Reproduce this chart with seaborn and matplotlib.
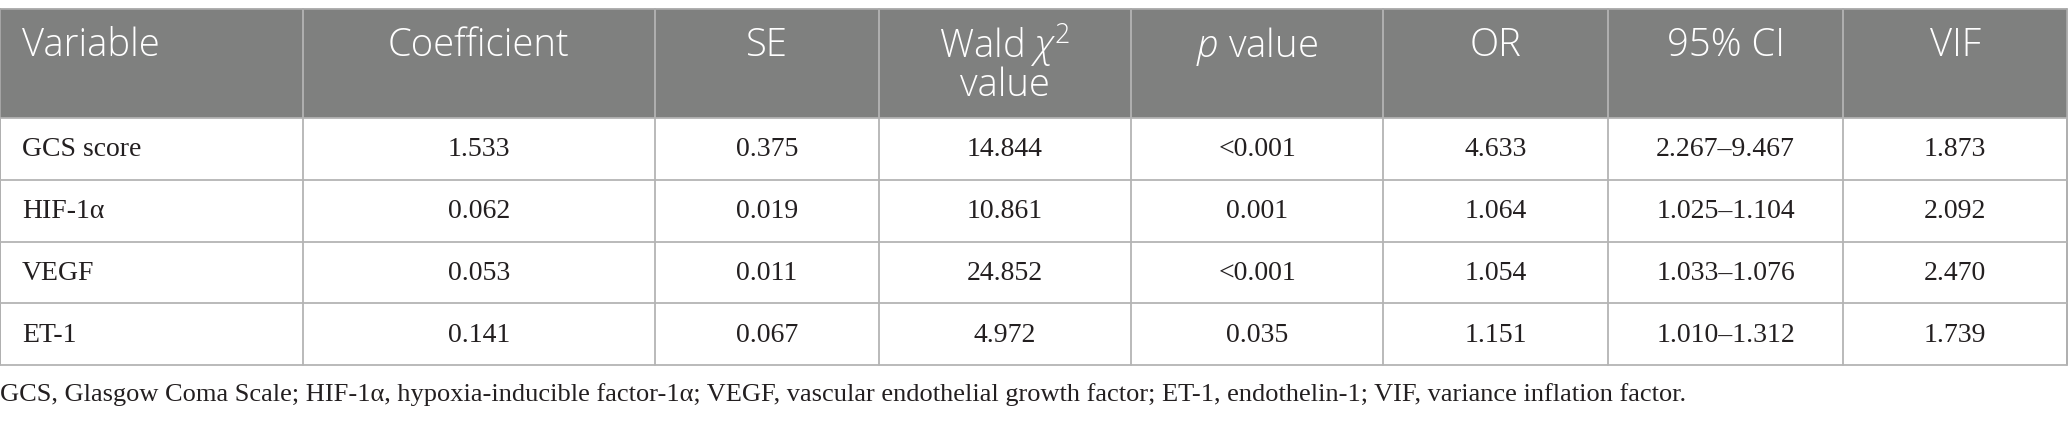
import numpy as np
import pandas as pd
import seaborn as sns
import matplotlib.pyplot as plt
from matplotlib.patches import Rectangle

variables = ['GCS score', 'HIF-1α', 'VEGF', 'ET-1']
coefficient = [1.533, 0.062, 0.053, 0.141]
se = [0.375, 0.019, 0.011, 0.067]
wald = [14.844, 10.861, 24.852, 4.972]
p_value = ['<0.001', '0.001', '<0.001', '0.035']
odds_ratio = [4.633, 1.064, 1.054, 1.151]
ci_low = [2.267, 1.025, 1.033, 1.010]
ci_high = [9.467, 1.104, 1.076, 1.312]
vif = [1.873, 2.092, 2.470, 1.739]

headers = ['Variable', 'Coefficient', 'SE', 'Wald $\\chi^2$\nvalue', '$p$ value', 'OR', '95% CI', 'VIF']
footnote = ('GCS, Glasgow Coma Scale; HIF-1α, hypoxia-inducible factor-1α; VEGF, vascular endothelial '
            'growth factor; ET-1, endothelin-1; VIF, variance inflation factor.')

table = pd.DataFrame({
    'Variable': variables,
    'Coefficient': [f'{v:.3f}' for v in coefficient],
    'SE': [f'{v:.3f}' for v in se],
    'Wald': [f'{v:.3f}' for v in wald],
    'p': p_value,
    'OR': [f'{v:.3f}' for v in odds_ratio],
    'CI': [f'{a:.3f}–{b:.3f}' for a, b in zip(ci_low, ci_high)],
    'VIF': [f'{v:.3f}' for v in vif],
})

sns.set_theme(style='white')
plt.rcParams['mathtext.fontset'] = 'custom'
plt.rcParams['mathtext.rm'] = 'Open Sans:light'
plt.rcParams['mathtext.it'] = 'Open Sans:italic:light'

# layout in pixel units
col_edges = [0, 303, 655, 879, 1131, 1383, 1608, 1843, 2067]
top, head_bottom, row_h = 9, 118, 61.75
grid_col = '#b4b4b4'
head_col = '#7f807f'

fig = plt.figure(figsize=(20.68, 4.24), dpi=100)
ax = fig.add_axes([0, 0, 1, 1])
ax.set_xlim(0, 2068)
ax.set_ylim(424, 0)
ax.axis('off')

n = len(table)
bottom = head_bottom + n * row_h

ax.add_patch(Rectangle((col_edges[0], top), col_edges[-1] - col_edges[0], head_bottom - top,
                       facecolor=head_col, edgecolor='none'))

# grid lines
for x in col_edges:
    ax.plot([x, x], [top, bottom], color=grid_col if x not in (0, 2067) else '#a8a8a8', lw=1.3)
for i in range(n + 1):
    y = head_bottom + i * row_h
    ax.plot([0, 2067], [y, y], color=grid_col, lw=1.3)
ax.plot([0, 2067], [top, top], color='#a8a8a8', lw=1.3)

# header text
for j, h in enumerate(headers):
    lines = h.split('\n')
    if j == 0:
        x, ha = col_edges[0] + 22, 'left'
    else:
        x, ha = (col_edges[j] + col_edges[j + 1]) / 2, 'center'
    for k, line in enumerate(lines):
        ax.text(x, 46 + k * 40, line, ha=ha, va='center', color='white',
                fontsize=27.5, family='Open Sans', fontweight='light')

# body text
for i, row in enumerate(table.itertuples(index=False)):
    yc = head_bottom + (i + 0.5) * row_h
    for j, val in enumerate(row):
        if j == 0:
            x, ha = col_edges[0] + 22, 'left'
        else:
            x, ha = (col_edges[j] + col_edges[j + 1]) / 2, 'center'
        ax.text(x, yc + 1, val, ha=ha, va='center', color='#231f20',
                fontsize=20, family='Liberation Serif')

ax.text(0, 395, footnote, ha='left', va='center', color='#231f20',
        fontsize=19, family='Liberation Serif')

fig.savefig('out.png', dpi=100)
